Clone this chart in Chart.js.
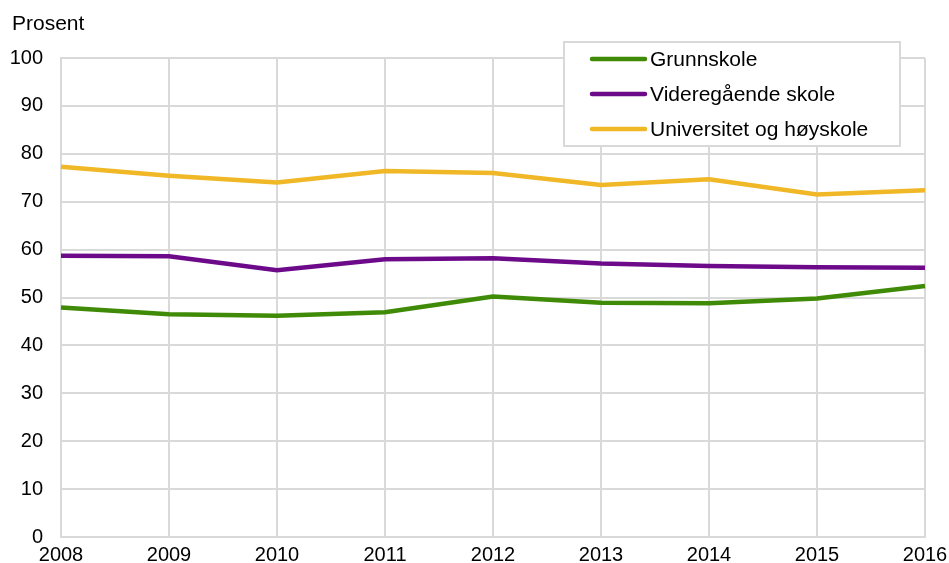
<!DOCTYPE html>
<html>
<head>
<meta charset="utf-8">
<script src="https://cdn.jsdelivr.net/npm/chart.js@4/dist/chart.umd.min.js"></script>
<style>
  html, body { margin: 0; padding: 0; background: #fff; }
  canvas { display: block; }
</style>
</head>
<body>
<canvas id="chart" width="949" height="563"></canvas>
<script>
// Share (percent) by level of education, 2008–2016
const years = ['2008', '2009', '2010', '2011', '2012', '2013', '2014', '2015', '2016'];
const grunnskole = [47.9, 46.5, 46.2, 46.9, 50.2, 48.9, 48.8, 49.8, 52.4];
const videregaende = [58.7, 58.6, 55.7, 58.0, 58.2, 57.1, 56.6, 56.3, 56.2];
const universitet = [77.3, 75.4, 74.0, 76.4, 76.0, 73.5, 74.7, 71.5, 72.4];
const seriesNames = ['Grunnskole', 'Videregående skole', 'Universitet og høyskole'];
const seriesColors = ['#3f8a06', '#6c0a8a', '#f0b726'];
const yMin = 0, yMax = 100, yStep = 10;
const unitLabel = 'Prosent';

const FONT = '"Liberation Sans", Arial, sans-serif';
const GRID = '#d9d9d9';

// Axis caption in the top-left corner
const captionPlugin = {
  id: 'caption',
  afterDraw(chart) {
    const ctx = chart.ctx;
    ctx.save();
    ctx.font = '21px ' + FONT;
    ctx.fillStyle = '#000';
    ctx.textAlign = 'left';
    ctx.textBaseline = 'alphabetic';
    ctx.fillText(unitLabel, 12, 29.5);
    ctx.restore();
  }
};

// Boxed legend floating in the upper right of the plot area
const boxLegendPlugin = {
  id: 'boxLegend',
  afterDatasetsDraw(chart) {
    const ctx = chart.ctx;
    const box = { x: 564, y: 42, w: 336, h: 104 };
    ctx.save();
    ctx.fillStyle = '#fff';
    ctx.fillRect(box.x, box.y, box.w, box.h);
    ctx.strokeStyle = GRID;
    ctx.lineWidth = 2;
    ctx.strokeRect(box.x, box.y, box.w, box.h);
    ctx.font = '21px ' + FONT;
    ctx.textAlign = 'left';
    ctx.textBaseline = 'alphabetic';
    chart.data.datasets.forEach((ds, i) => {
      const cy = 59 + i * 35;
      ctx.strokeStyle = ds.borderColor;
      ctx.lineWidth = 4.5;
      ctx.lineCap = 'round';
      ctx.beginPath();
      ctx.moveTo(592, cy);
      ctx.lineTo(645, cy);
      ctx.stroke();
      ctx.fillStyle = '#000';
      ctx.fillText(ds.label, 650, cy + 7);
    });
    ctx.restore();
  }
};

const seriesData = [grunnskole, videregaende, universitet];

new Chart(document.getElementById('chart'), {
  type: 'line',
  data: {
    labels: years,
    datasets: seriesNames.map((name, i) => ({
      label: name,
      data: seriesData[i],
      borderColor: seriesColors[i],
      backgroundColor: seriesColors[i],
      borderWidth: 4.5,
      pointRadius: 0,
      tension: 0,
      fill: false
    }))
  },
  options: {
    responsive: false,
    animation: false,
    layout: { padding: { top: 58, right: 24, left: 0, bottom: 0 } },
    plugins: {
      legend: { display: false },
      tooltip: { enabled: false },
      title: { display: false }
    },
    scales: {
      x: {
        type: 'category',
        offset: false,
        grid: { color: GRID, lineWidth: 2, drawTicks: false },
        border: { color: GRID, width: 2 },
        ticks: {
          color: '#000',
          font: { family: FONT, size: 20 },
          padding: 6,
          maxRotation: 0,
          autoSkip: false
        },
        afterFit(scale) {
          scale.height = 26;
          scale.paddingLeft = 0;
          scale.paddingRight = 0;
        }
      },
      y: {
        min: yMin,
        max: yMax,
        grid: { color: GRID, lineWidth: 2, drawTicks: false },
        border: { color: GRID, width: 2 },
        ticks: {
          stepSize: yStep,
          color: '#000',
          font: { family: FONT, size: 20 },
          padding: 18
        },
        afterFit(scale) {
          scale.width = 61;
          scale.paddingTop = 0;
          scale.paddingBottom = 0;
        }
      }
    }
  },
  plugins: [captionPlugin, boxLegendPlugin]
});
</script>
</body>
</html>
